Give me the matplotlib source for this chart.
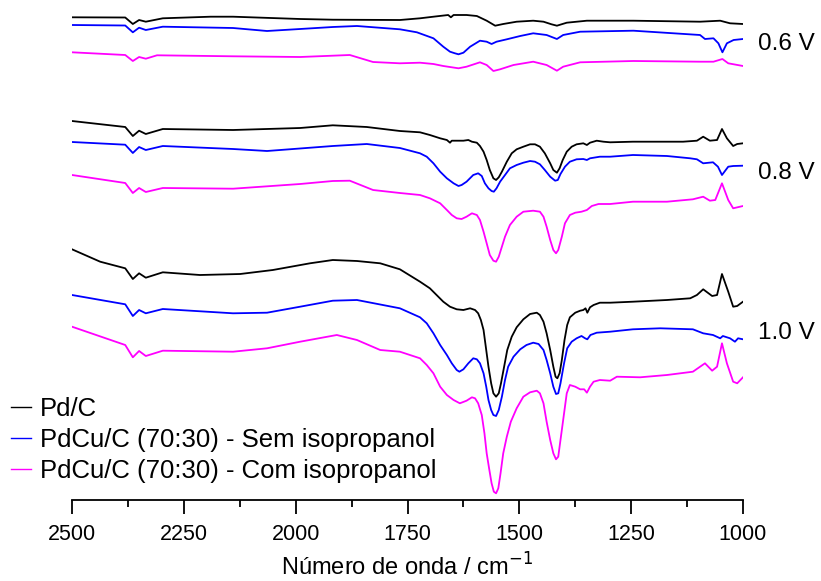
import matplotlib
matplotlib.use("Agg")
import matplotlib.pyplot as plt
from matplotlib.ticker import MultipleLocator

plt.rcParams['font.family'] = ['Liberation Sans', 'DejaVu Sans']

# In-situ FTIR spectra (arbitrary units, stacked) at three electrode potentials.
# Each spectrum: wavenumber (cm-1) and intensity (a.u.).

# ---------------- 0.6 V ----------------
wn_06_pd = [2500, 2381, 2364, 2350, 2335, 2297, 2190, 2140, 1990, 1917,
            1767, 1722, 1692, 1659, 1653, 1647, 1618, 1595, 1573, 1554, 1536, 1506, 1469,
            1446, 1428, 1416, 1394, 1349, 1245, 1096, 1051, 1029, 1000]
ab_06_pd = [482.7, 482.5, 476.0, 480.0, 478.3, 481.7, 483.3, 483.3, 481.0, 480.3,
            480.0, 481.7, 483.3, 485.0, 482.7, 485.0, 485.0, 484.0, 479.3, 474.3, 476.0, 478.3, 479.3,
            478.3, 475.7, 474.3, 477.3, 479.3, 479.3, 478.3, 479.3, 476.7, 476.0]

wn_06_sem = [2500, 2381, 2364, 2350, 2335, 2297, 2140, 2064, 1990, 1917, 1863,
             1767, 1729, 1692, 1670, 1655, 1644, 1636, 1625, 1610, 1588, 1573, 1562, 1551,
             1528, 1498, 1469, 1439, 1416, 1402, 1364, 1245, 1096, 1085, 1066, 1055, 1046,
             1036, 1021, 1000]
ab_06_sem = [475.0, 474.5, 467.7, 472.3, 470.0, 473.3, 472.0, 469.0, 471.0, 473.0, 474.0,
             470.7, 467.7, 461.7, 453.3, 448.3, 446.7, 445.7, 447.3, 453.3, 459.3, 458.3, 456.0, 458.3,
             460.7, 464.0, 466.7, 465.0, 461.0, 465.0, 468.3, 469.3, 465.0, 461.0, 461.7, 456.7, 447.7,
             456.7, 460.0, 461.0]

wn_06_com = [2500, 2381, 2364, 2350, 2335, 2310, 2140, 1990, 1879, 1827,
             1767, 1722, 1692, 1670, 1636, 1618, 1588, 1573, 1558, 1543, 1513, 1469, 1439,
             1416, 1402, 1364, 1245, 1096, 1066, 1046, 1033, 1000]
ab_06_com = [447.7, 445.0, 439.0, 443.0, 441.3, 444.7, 443.7, 443.0, 445.0, 438.0,
             436.7, 437.3, 436.0, 434.0, 431.7, 433.3, 437.7, 435.0, 429.0, 430.7, 435.0, 438.3, 435.0,
             429.3, 433.3, 437.7, 439.0, 438.3, 438.3, 441.0, 436.7, 434.0]

# ---------------- 0.8 V ----------------
wn_08_pd = [2500, 2381, 2364, 2350, 2335, 2297, 2140, 1990, 1917, 1841, 1767,
            1722, 1700, 1677, 1662, 1655, 1651, 1640, 1625, 1614, 1606, 1595, 1588, 1580,
            1573, 1566, 1558, 1552, 1546, 1539, 1528, 1517, 1506, 1491, 1476, 1465, 1454,
            1443, 1431, 1424, 1416, 1410, 1403, 1394, 1383, 1372, 1357, 1349, 1342, 1327,
            1312, 1297, 1246, 1134, 1103, 1089, 1074, 1058, 1047, 1036, 1022, 1013, 1000]
ab_08_pd = [379.0, 373.0, 364.0, 369.3, 366.0, 371.0, 370.0, 372.0, 374.7, 373.0, 369.0,
            367.7, 365.0, 361.7, 360.0, 357.3, 359.3, 359.3, 359.3, 360.0, 358.3, 357.3, 354.0, 348.3,
            340.0, 330.0, 321.7, 320.0, 322.7, 328.3, 338.3, 346.7, 350.7, 353.3, 355.7, 355.7, 353.3,
            346.7, 336.7, 330.0, 327.3, 331.7, 340.0, 348.3, 353.3, 355.7, 356.7, 355.0, 357.3, 359.3,
            358.3, 357.7, 358.3, 358.3, 359.3, 363.3, 359.3, 360.0, 371.0, 361.7, 354.0, 356.0, 356.7]

wn_08_sem = [2500, 2381, 2364, 2350, 2335, 2297, 2140, 2064, 1917, 1841, 1767,
             1722, 1707, 1692, 1677, 1662, 1647, 1636, 1629, 1618, 1603, 1592, 1584, 1577,
             1569, 1562, 1557, 1551, 1543, 1532, 1521, 1506, 1491, 1476, 1465, 1454, 1443,
             1431, 1420, 1414, 1408, 1398, 1387, 1372, 1357, 1349, 1342, 1320, 1297, 1246,
             1170, 1118, 1103, 1089, 1067, 1056, 1047, 1033, 1022, 1000]
ab_08_sem = [358.0, 355.3, 347.0, 353.0, 350.0, 354.0, 351.0, 349.0, 354.0, 356.0, 352.0,
             346.7, 343.3, 336.7, 328.3, 321.7, 316.7, 314.0, 315.0, 318.3, 325.0, 326.7, 324.0, 316.7,
             311.7, 309.0, 308.3, 311.7, 318.3, 325.0, 331.7, 335.0, 337.3, 339.0, 338.3, 335.7, 330.0,
             323.3, 319.3, 320.0, 326.0, 333.3, 338.3, 340.7, 341.0, 340.0, 341.7, 343.3, 343.3, 345.0,
             344.0, 341.7, 340.7, 336.7, 337.7, 333.3, 325.0, 333.3, 334.0, 334.3]

wn_08_com = [2500, 2381, 2364, 2350, 2335, 2297, 2140, 1990, 1917, 1879, 1827, 1767,
             1722, 1700, 1677, 1662, 1651, 1640, 1629, 1618, 1606, 1595, 1588, 1580, 1573,
             1566, 1558, 1552, 1546, 1539, 1532, 1521, 1506, 1491, 1469, 1454, 1446, 1439,
             1431, 1424, 1418, 1413, 1405, 1398, 1387, 1375, 1361, 1349, 1338, 1323, 1297,
             1246, 1170, 1112, 1089, 1074, 1062, 1047, 1033, 1022, 1000]
ab_08_com = [325.0, 317.0, 307.0, 312.0, 308.0, 312.0, 311.3, 316.0, 319.0, 319.3, 310.0, 307.0,
             305.0, 301.7, 296.7, 290.0, 285.0, 281.7, 281.0, 283.3, 286.7, 285.0, 280.0, 268.3, 256.7,
             245.0, 239.3, 238.3, 243.3, 253.3, 263.3, 275.0, 283.3, 288.3, 289.3, 288.3, 283.3, 273.3,
             260.0, 250.0, 246.7, 250.0, 263.3, 276.7, 285.0, 287.3, 288.3, 290.0, 294.0, 296.0, 296.0,
             298.3, 298.3, 300.7, 303.3, 299.3, 300.0, 316.7, 300.0, 291.7, 294.0]

# ---------------- 1.0 V ----------------
wn_10_pd = [2500, 2437, 2381, 2364, 2350, 2335, 2297, 2214, 2124, 2051, 1968, 1917, 1863,
            1811, 1767, 1722, 1700, 1685, 1670, 1655, 1640, 1625, 1610, 1599, 1592, 1586,
            1580, 1575, 1569, 1563, 1558, 1552, 1546, 1541, 1534, 1527, 1517, 1506, 1491,
            1476, 1461, 1454, 1446, 1439, 1431, 1424, 1419, 1415, 1410, 1405, 1399, 1393,
            1387, 1375, 1364, 1357, 1352, 1348, 1342, 1334, 1320, 1297, 1246, 1170, 1118,
            1103, 1089, 1069, 1058, 1047, 1033, 1022, 1013, 1000]
ab_10_pd = [250.7, 238.3, 231.7, 221.0, 226.7, 222.3, 227.7, 225.0, 226.0, 230.0, 236.7, 240.0, 239.0,
            236.7, 230.7, 218.3, 211.7, 205.0, 198.3, 193.3, 190.7, 190.0, 191.7, 190.0, 186.7, 180.0,
            170.0, 153.3, 133.3, 116.7, 106.7, 103.3, 106.7, 116.7, 133.3, 150.0, 163.3, 172.7, 180.7,
            186.0, 187.3, 185.0, 178.3, 166.7, 150.0, 133.3, 123.3, 121.7, 126.7, 140.0, 160.0, 175.0,
            182.7, 187.3, 189.3, 190.0, 191.7, 187.3, 192.7, 195.0, 197.3, 197.3, 198.3, 200.0, 201.7,
            205.0, 210.7, 204.0, 205.0, 226.0, 208.3, 193.3, 194.0, 198.3]

wn_10_sem = [2500, 2381, 2364, 2350, 2335, 2297, 2140, 2064, 1990, 1917, 1863, 1767,
             1722, 1707, 1692, 1677, 1662, 1651, 1640, 1634, 1625, 1614, 1603, 1595, 1588,
             1580, 1574, 1569, 1563, 1558, 1552, 1546, 1539, 1532, 1525, 1513, 1498, 1484,
             1469, 1457, 1446, 1439, 1431, 1424, 1418, 1413, 1408, 1400, 1393, 1383, 1372,
             1361, 1353, 1348, 1341, 1327, 1297, 1246, 1185, 1112, 1089, 1067, 1051, 1045,
             1029, 1018, 1011, 1000]
ab_10_sem = [205.0, 195.7, 184.0, 190.0, 186.7, 191.0, 186.7, 187.3, 193.3, 199.3, 200.0, 191.7,
             182.7, 176.7, 166.7, 155.0, 145.0, 136.7, 130.0, 128.3, 130.7, 136.7, 141.7, 140.7, 136.7,
             126.7, 113.3, 100.0, 90.0, 85.0, 84.0, 90.0, 103.3, 120.0, 133.3, 143.3, 150.7, 155.0,
             157.3, 156.0, 150.0, 140.0, 126.7, 113.3, 106.0, 106.7, 116.7, 136.7, 151.7, 158.3, 161.7,
             164.0, 161.7, 160.7, 165.0, 167.3, 168.3, 170.7, 171.7, 170.7, 166.7, 165.0, 161.7, 164.0,
             161.7, 158.3, 161.7, 160.7]

wn_10_com = [2500, 2381, 2364, 2350, 2335, 2297, 2140, 2064, 1990, 1908, 1863, 1811, 1767,
             1722, 1707, 1692, 1677, 1662, 1647, 1633, 1618, 1606, 1599, 1592, 1584, 1578,
             1573, 1567, 1562, 1557, 1552, 1547, 1542, 1536, 1528, 1519, 1506, 1491, 1476,
             1461, 1454, 1446, 1439, 1431, 1424, 1418, 1413, 1409, 1402, 1394, 1387, 1375,
             1364, 1355, 1349, 1342, 1334, 1320, 1297, 1282, 1230, 1170, 1112, 1085, 1069,
             1058, 1047, 1036, 1022, 1013, 1000]
ab_10_com = [173.3, 155.0, 142.7, 149.0, 144.0, 149.3, 148.3, 151.7, 158.3, 165.0, 160.0, 150.0, 148.3,
             141.7, 135.0, 126.7, 113.3, 105.0, 100.0, 96.7, 99.3, 102.7, 101.7, 96.7, 85.0, 66.7,
             46.7, 30.0, 16.7, 8.3, 6.7, 11.7, 26.7, 46.7, 63.3, 78.3, 91.7, 103.3, 107.7,
             109.3, 106.7, 96.7, 78.3, 60.0, 46.7, 40.7, 43.3, 56.7, 80.0, 106.7, 115.0, 113.3,
             110.7, 110.7, 107.3, 113.3, 118.3, 120.0, 119.3, 123.3, 122.7, 125.0, 128.3, 136.7, 129.3,
             133.3, 156.7, 136.7, 118.3, 116.7, 122.7]

series_labels = ["Pd/C", "PdCu/C (70:30) - Sem isopropanol", "PdCu/C (70:30) - Com isopropanol"]
series_colors = ["#000000", "#0000FF", "#FF00FF"]
potential_labels = ["0.6 V", "0.8 V", "1.0 V"]
potential_label_y = [456, 327, 167]

groups = [
    [(wn_06_pd, ab_06_pd), (wn_06_sem, ab_06_sem), (wn_06_com, ab_06_com)],
    [(wn_08_pd, ab_08_pd), (wn_08_sem, ab_08_sem), (wn_08_com, ab_08_com)],
    [(wn_10_pd, ab_10_pd), (wn_10_sem, ab_10_sem), (wn_10_com, ab_10_com)],
]

fig = plt.figure(figsize=(8.21, 5.81), dpi=100)
ax = fig.add_axes([72 / 821, 81 / 581, 671 / 821, 500 / 581])

for group in groups:
    for s, (wn, ab) in enumerate(group):
        ax.plot(wn, ab, color=series_colors[s], lw=1.3, solid_joinstyle='round')

for lab, yv in zip(potential_labels, potential_label_y):
    ax.text(966, yv, lab, fontsize=17.5, ha='left', va='center', clip_on=False)

ax.set_xlim(2500, 1000)
ax.set_ylim(0, 500)
ax.xaxis.set_major_locator(MultipleLocator(250))
ax.xaxis.set_minor_locator(MultipleLocator(125))
ax.tick_params(axis='x', which='major', direction='out', length=10, width=1.3,
               labelsize=15.5, pad=7)
ax.tick_params(axis='x', which='minor', direction='out', length=5, width=1.3)
ax.set_yticks([])
for side in ('left', 'right', 'top'):
    ax.spines[side].set_visible(False)
ax.spines['bottom'].set_linewidth(1.3)

ax.set_xlabel("Número de onda / cm$^{-1}$", fontsize=17, labelpad=6)

leg_handles = [plt.Line2D([], [], color=c, lw=1.0) for c in series_colors]
fig.legend(leg_handles, series_labels, loc='upper left',
           bbox_to_anchor=(0.0, 1 - 386 / 581), frameon=False, fontsize=18.5,
           handlelength=0.8, handletextpad=0.33, labelspacing=0.27, borderaxespad=0,
           borderpad=0.42)

fig.savefig("out.png", dpi=100)
